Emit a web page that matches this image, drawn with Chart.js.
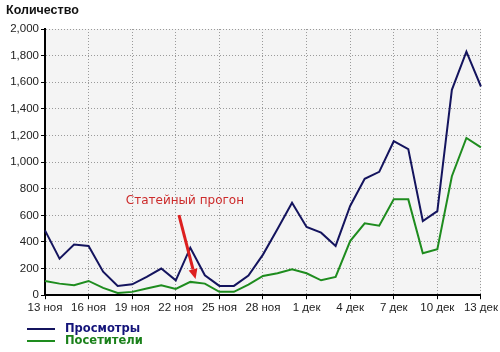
<!DOCTYPE html>
<html>
<head>
<meta charset="utf-8">
<script src="https://cdn.jsdelivr.net/npm/chart.js@4/dist/chart.umd.min.js"></script>
<style>
  html, body { margin: 0; padding: 0; background: #ffffff; }
  #wrap { position: relative; width: 500px; height: 352px; overflow: hidden; }
  canvas { position: absolute; left: 0; top: 0; }
  #title { position: absolute; left: 6px; top: 3px; font: bold 12.5px "Liberation Sans", Arial, sans-serif; color: #111; }
  .leg { position: absolute; left: 27px; height: 12px; }
  .leg .ln { position: absolute; left: 0; top: 5px; width: 28px; height: 2px; }
  .leg .tx { position: absolute; left: 38px; top: -2px; font: bold 11.5px "DejaVu Sans", sans-serif; white-space: nowrap; }
</style>
</head>
<body>
<div id="wrap">
  <canvas id="c" width="500" height="352"></canvas>
  <div id="title">Количество</div>
  <div class="leg" style="top:323px"><div class="ln" style="background:#14145e"></div><div class="tx" style="color:#14147a">Просмотры</div></div>
  <div class="leg" style="top:335px"><div class="ln" style="background:#1e8c1e"></div><div class="tx" style="color:#1a801a">Посетители</div></div>
</div>
<script>
const categories = ['13 ноя','14 ноя','15 ноя','16 ноя','17 ноя','18 ноя','19 ноя','20 ноя','21 ноя','22 ноя',
  '23 ноя','24 ноя','25 ноя','26 ноя','27 ноя','28 ноя','29 ноя','30 ноя','1 дек','2 дек',
  '3 дек','4 дек','5 дек','6 дек','7 дек','8 дек','9 дек','10 дек','11 дек','12 дек','13 дек'];
const views = [487, 275, 380, 370, 177, 70, 82, 137, 200, 112,
  357, 150, 70, 70, 148, 305, 497, 695, 512, 470,
  370, 670, 875, 927, 1157, 1098, 557, 632, 1543, 1830, 1568];
const visitors = [107, 87, 75, 107, 55, 17, 25, 50, 75, 47,
  100, 87, 25, 25, 80, 145, 165, 195, 165, 112,
  137, 407, 540, 522, 720, 720, 315, 345, 894, 1181, 1111];
const yTicks = [0, 200, 400, 600, 800, 1000, 1200, 1400, 1600, 1800, 2000];
const seriesNames = ['Просмотры', 'Посетители'];
const annotationText = 'Статейный прогон';
// annotation anchor in data units: [category index, value]
const annotationLabelAt = [9.63, 706];
const annotationArrowFrom = [9.22, 601];
const annotationArrowTo = [10.36, 122];

const bgPlugin = {
  id: 'plotBg',
  beforeDraw(chart) {
    const {ctx, chartArea: a} = chart;
    ctx.save();
    ctx.fillStyle = '#f4f4f4';
    ctx.fillRect(a.left, a.top, a.right - a.left, a.bottom - a.top);
    ctx.restore();
  }
};

const annotationPlugin = {
  id: 'arrowNote',
  afterDatasetsDraw(chart) {
    const {ctx, scales: {x, y}} = chart;
    const px = (v) => x.getPixelForValue(0) + (x.getPixelForValue(1) - x.getPixelForValue(0)) * v;
    ctx.save();
    ctx.fillStyle = '#cc2a2a';
    ctx.font = '12px "DejaVu Sans", sans-serif';
    ctx.textAlign = 'center';
    ctx.textBaseline = 'middle';
    ctx.fillText(annotationText, px(annotationLabelAt[0]), y.getPixelForValue(annotationLabelAt[1]));
    const x1 = px(annotationArrowFrom[0]), y1 = y.getPixelForValue(annotationArrowFrom[1]);
    const x2 = px(annotationArrowTo[0]), y2 = y.getPixelForValue(annotationArrowTo[1]);
    const ang = Math.atan2(y2 - y1, x2 - x1);
    const head = 10, hw = 4.5;
    const bx = x2 - head * Math.cos(ang), by = y2 - head * Math.sin(ang);
    ctx.strokeStyle = '#dd1f1f';
    ctx.lineWidth = 3;
    ctx.beginPath();
    ctx.moveTo(x1, y1);
    ctx.lineTo(bx, by);
    ctx.stroke();
    ctx.fillStyle = '#dd1f1f';
    ctx.beginPath();
    ctx.moveTo(x2, y2);
    ctx.lineTo(bx + hw * Math.sin(ang), by - hw * Math.cos(ang));
    ctx.lineTo(bx - hw * Math.sin(ang), by + hw * Math.cos(ang));
    ctx.closePath();
    ctx.fill();
    ctx.restore();
  }
};

const tickFont = { family: '"Liberation Sans", Arial, sans-serif', size: 11.5 };

new Chart(document.getElementById('c'), {
  type: 'line',
  data: {
    labels: categories,
    datasets: [
      { label: seriesNames[0], data: views, borderColor: '#14145e', borderWidth: 2, pointRadius: 0, tension: 0, fill: false },
      { label: seriesNames[1], data: visitors, borderColor: '#1e8c1e', borderWidth: 2, pointRadius: 0, tension: 0, fill: false }
    ]
  },
  options: {
    responsive: false,
    animation: false,
    layout: { padding: { left: 0, right: 19, top: 29, bottom: 35 } },
    plugins: { legend: { display: false }, tooltip: { enabled: false } },
    scales: {
      x: {
        offset: false,
        border: { display: true, color: '#000', width: 2, dash: [1, 2] },
        grid: {
          color: (c) => (c.index % 3 === 0 && c.index !== 0) ? '#9a9a9a' : 'rgba(0,0,0,0)',
          tickColor: (c) => (c.index % 3 === 0) ? '#000' : 'rgba(0,0,0,0)',
          tickLength: 4, tickBorderDash: [], lineWidth: 1
        },
        ticks: {
          autoSkip: false, maxRotation: 0, minRotation: 0, padding: 2,
          color: '#222', font: tickFont,
          callback: (v, i) => (i % 3 === 0 ? categories[i] : '')
        }
      },
      y: {
        min: 0, max: 2000,
        afterFit: (s) => { s.width = 45; },
        afterBuildTicks: (s) => { s.ticks = yTicks.map(v => ({ value: v })); },
        border: { display: true, color: '#000', width: 2, dash: [1, 2] },
        grid: {
          color: (c) => (c.tick && c.tick.value !== 0) ? '#9a9a9a' : 'rgba(0,0,0,0)',
          tickColor: '#000', tickLength: 4, tickBorderDash: [], lineWidth: 1
        },
        ticks: {
          color: '#222', font: tickFont, padding: 2,
          callback: (v) => v.toLocaleString('en-US')
        }
      }
    }
  },
  plugins: [bgPlugin, annotationPlugin]
});
</script>
</body>
</html>
